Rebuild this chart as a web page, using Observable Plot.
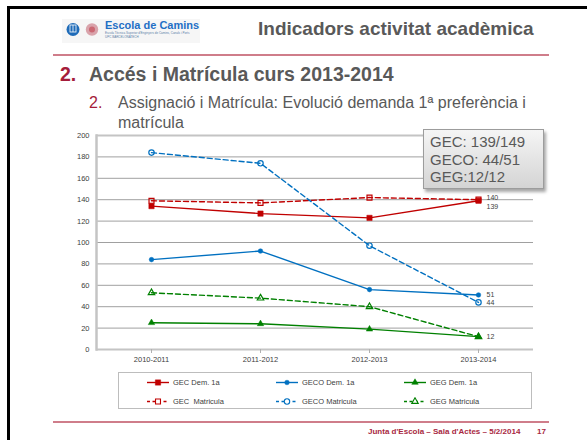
<!DOCTYPE html>
<html><head><meta charset="utf-8">
<script src="https://cdn.jsdelivr.net/npm/d3@7"></script>
<script src="https://cdn.jsdelivr.net/npm/@observablehq/plot@0.6"></script>
<style>
html,body{margin:0;padding:0;background:#fff;}
#page{position:relative;width:587px;height:440px;overflow:hidden;font-family:"Liberation Sans",Arial,sans-serif;background:#fff;}
.abs{position:absolute;white-space:nowrap;}
#barTop{left:7px;top:6px;width:600px;height:3px;background:#000;}
#barLeft{left:7px;top:6px;width:3px;height:440px;background:#000;}
#logo{left:62px;top:19px;width:138px;height:24px;background:#f6f6f6;}
#logoName{left:105px;top:20px;font-size:11px;font-weight:bold;color:#1f6fc5;line-height:11px;}
#logoSub1{left:105px;top:32px;font-size:3px;color:#5b7fa8;line-height:3px;}
#logoSub2{left:105px;top:36px;font-size:3px;color:#5b7fa8;line-height:3px;}
#title{left:258px;top:19px;font-size:19px;font-weight:bold;color:#595959;line-height:19px;}
.pink{height:2px;background:#cf7d8a;}
#line1{left:53px;top:54px;width:496px;}
#line2{left:53px;top:421px;width:496px;}
#h2num{left:60px;top:65px;font-size:19.5px;font-weight:bold;color:#a51c3a;line-height:19.5px;}
#h2{left:89px;top:65px;font-size:19.5px;font-weight:bold;color:#595959;line-height:19.5px;}
#subnum{left:89px;top:93px;font-size:16px;color:#a51c3a;line-height:20px;}
#sub{left:118px;top:93px;font-size:16px;color:#595959;line-height:20px;}
#footer{left:368px;top:428px;font-size:8px;font-weight:bold;color:#a8283f;line-height:8px;}
#pagenum{left:537px;top:428px;font-size:8px;font-weight:bold;color:#a8283f;line-height:8px;}
#chart{position:absolute;left:0;top:125px;}
#note{left:423px;top:129px;width:119px;height:58px;border:1px solid #9c9c9c;background:linear-gradient(#f5f5f5,#d4d4d4);box-shadow:2px 3px 3px rgba(0,0,0,0.35);font-size:15px;color:#595959;line-height:17.5px;padding:0;}
#note div{padding-left:6px;}
#legend{left:118px;top:372px;width:384px;height:35px;border:1px solid #bdbdbd;background:#fff;display:grid;grid-template-columns:129px 128px 127px;grid-template-rows:19px 19px;padding-left:28px;box-sizing:content-box;}
.li{display:flex;align-items:center;font-size:7.5px;color:#404040;}
.li svg{margin-right:4px;}
</style></head><body>
<div id="page">
  <div class="abs" id="barTop"></div>
  <div class="abs" id="barLeft"></div>
  <div class="abs" id="logo">
    <svg width="40" height="24" style="position:absolute;left:0;top:0">
      <circle cx="11" cy="10.5" r="6.5" fill="#1e6bb8"></circle>
      <rect x="8" y="6" width="6" height="7" fill="none" stroke="#fff" stroke-width="0.8"></rect>
      <line x1="11" y1="6" x2="11" y2="13" stroke="#fff" stroke-width="0.8"></line>
      <circle cx="30" cy="10.5" r="6.2" fill="#d9a3ab"></circle>
      <circle cx="30" cy="10.5" r="3" fill="#c2414f" opacity="0.6"></circle>
    </svg>
  </div>
  <div class="abs" id="logoName">Escola de Camins</div>
  <div class="abs" id="logoSub1">Escola Tècnica Superior d'Enginyers de Camins, Canals i Ports</div>
  <div class="abs" id="logoSub2">UPC BARCELONATECH</div>
  <div class="abs" id="title">Indicadors activitat acadèmica</div>
  <div class="abs pink" id="line1"></div>
  <div class="abs" id="h2num">2.</div>
  <div class="abs" id="h2">Accés i Matrícula curs 2013-2014</div>
  <div class="abs" id="subnum">2.</div>
  <div class="abs" id="sub">Assignació i Matrícula: Evolució demanda 1ª preferència i<br>matrícula</div>
  <div id="chart"></div>
  <div class="abs" id="note"></div>
  <div class="abs" id="legend"></div>
  <div class="abs pink" id="line2"></div>
  <div class="abs" id="footer">Junta d'Escola – Sala d'Actes – 5/2/2014</div>
  <div class="abs" id="pagenum">17</div>
</div>
<script>
// ---- data ----
const years = ["2010-2011", "2011-2012", "2012-2013", "2013-2014"];
const gecDem = [134, 127, 123, 139];
const gecoDem = [84, 92, 56, 51];
const gegDem = [25, 24, 19, 12];
const gecMat = [139, 137, 142, 140];
const gecoMat = [184, 174, 97, 44];
const gegMat = [53, 48, 40, 12];
const yTicks = [0, 20, 40, 60, 80, 100, 120, 140, 160, 180, 200];
const seriesNames = ["GEC Dem. 1a", "GECO Dem. 1a", "GEG Dem. 1a", "GEC  Matricula", "GECO Matricula", "GEG Matricula"];
const noteLines = ["GEC: 139/149", "GECO: 44/51", "GEG:12/12"];

// ---- styling per series ----
const RED = "#c00000", BLUE = "#0070c0", GREEN = "#008000";
const series = [
  {name: seriesNames[0], values: gecDem, color: RED, dashed: false, symbol: "square", filled: true, r: 3, labelDy: 6},
  {name: seriesNames[1], values: gecoDem, color: BLUE, dashed: false, symbol: "circle", filled: true, r: 2.3, labelDy: 0},
  {name: seriesNames[2], values: gegDem, color: GREEN, dashed: false, symbol: "triangle", filled: true, r: 2.4, labelDy: 0},
  {name: seriesNames[3], values: gecMat, color: RED, dashed: true, symbol: "square", filled: false, r: 2.8, labelDy: -1.5},
  {name: seriesNames[4], values: gecoMat, color: BLUE, dashed: true, symbol: "circle", filled: false, r: 2.7, labelDy: 0},
  {name: seriesNames[5], values: gegMat, color: GREEN, dashed: true, symbol: "triangle", filled: false, r: 2.4, labelDy: null}
];
series.forEach(s => s.rows = years.map((y, i) => ({year: y, value: s.values[i], series: s.name})));

const marks = [
  Plot.ruleY(yTicks.filter(d => d > 0 && d < 200), {stroke: "#a0a0a0", strokeWidth: 1}),
  Plot.ruleY([200], {stroke: "#c4c4c4", strokeWidth: 2}),
  Plot.ruleY([0], {stroke: "#c4c4c4", strokeWidth: 2}),
  Plot.frame({anchor: "left", stroke: "#c4c4c4", strokeWidth: 2.5}),
  Plot.axisY({ticks: yTicks, tickSize: 0, tickPadding: 7, tickFormat: d => String(d), fill: "#404040"}),
  Plot.axisX({tickSize: 4, tickPadding: 3, stroke: "#b0b0b0", fill: "#404040"})
];
series.forEach(s => {
  marks.push(Plot.line(s.rows, {x: "year", y: "value", stroke: s.color, strokeWidth: 1.4, strokeDasharray: s.dashed ? "5,3" : null}));
});
series.forEach(s => {
  marks.push(Plot.dot(s.rows, {x: "year", y: "value", symbol: s.symbol, r: s.r, fill: s.filled ? s.color : "none", stroke: s.color, strokeWidth: s.filled ? 0.5 : 1.2}));
});
series.forEach(s => {
  if (s.labelDy === null) return;
  const last = s.rows[s.rows.length - 1];
  marks.push(Plot.text([last], {x: "year", y: "value", text: d => String(d.value), dx: 8, dy: s.labelDy, textAnchor: "start", fill: "#404040", fontSize: 7}));
});

const chart = Plot.plot({
  width: 587, height: 245,
  marginLeft: 96, marginRight: 54, marginTop: 10, marginBottom: 21,
  style: {fontFamily: "'Liberation Sans', Arial, sans-serif", fontSize: "7.5px", color: "#404040", background: "transparent", overflow: "visible"},
  x: {type: "point", domain: years, padding: 0.5, label: null},
  y: {domain: [0, 200], label: null},
  marks
});
document.getElementById("chart").appendChild(chart);

// note box
const note = document.getElementById("note");
note.style.paddingTop = "3px";
note.style.height = "55px";
noteLines.forEach(t => { const d = document.createElement("div"); d.textContent = t; note.appendChild(d); });

// legend
const symMap = {square: d3.symbolSquare, circle: d3.symbolCircle, triangle: d3.symbolTriangle};
const legend = d3.select("#legend");
series.forEach(s => {
  const item = legend.append("div").attr("class", "li");
  const svg = item.append("svg").attr("width", 22).attr("height", 9);
  svg.append("line").attr("x1", 0).attr("x2", 22).attr("y1", 4.5).attr("y2", 4.5)
    .attr("stroke", s.color).attr("stroke-width", 1.4).attr("stroke-dasharray", s.dashed ? "3,2.5" : null);
  svg.append("path").attr("transform", "translate(11,4.5)")
    .attr("d", d3.symbol(symMap[s.symbol], Math.PI * s.r * s.r)())
    .attr("fill", s.filled ? s.color : "#fff").attr("stroke", s.color).attr("stroke-width", s.filled ? 0.5 : 1.1);
  item.append("span").style("white-space", "pre").text(s.name);
});
</script>
</body></html>
